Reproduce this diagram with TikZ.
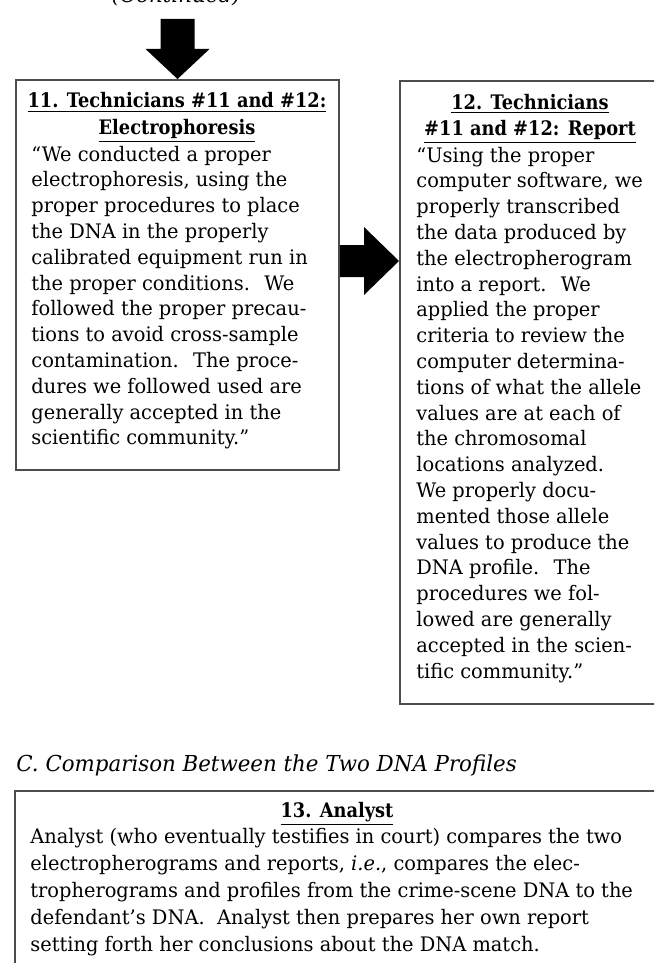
\documentclass[tikz,border=0pt]{standalone}
\usepackage{fontspec}
\setmainfont[FakeStretch=0.97]{DejaVu Serif}
\newfontfamily\headfont[FakeStretch=0.89]{DejaVu Serif}
\usetikzlibrary{calc}
\begin{document}
\begin{tikzpicture}[x=0.5pt,y=-0.5pt,
  panel/.style={draw=black!70, line width=1pt, rectangle, inner sep=0pt, anchor=north west},
  bodytext/.style={anchor=base west, inner sep=0pt, align=left, font=\fontsize{10}{12.9}\selectfont},
  headtext/.style={anchor=base, inner sep=0pt, align=center, font=\fontsize{10}{13.3}\selectfont\headfont\bfseries},
  blockarrow/.style={fill=black, draw=none}]
\useasboundingbox (0,0) rectangle (654,963);
\clip (0,0) rectangle (654,963);

% carried-over caption from the previous page
\node[anchor=base, inner sep=0pt, font=\fontsize{11}{14}\selectfont\itshape] (cont) at (176,3) {(Continued)};

% step boxes
\node[panel, minimum width=161.5pt, minimum height=195pt] (b11) at (15,79) {};
\node[panel, minimum width=131pt, minimum height=311.5pt] (b12) at (399,80) {};
\node[panel, minimum width=323.5pt, minimum height=120pt] (b13) at (14,790) {};

% block arrow into step 11
\fill[blockarrow] (b11.north) -- ++(-32,-30) -- ++(15,0) -- ++(0,-30) -- ++(34,0)
  -- ++(0,30) -- ++(15,0) -- cycle;

% block arrow from step 11 to step 12
\path (b11.east |- 0,261) coordinate (rs) (b12.west |- 0,261) coordinate (rt);
\fill[blockarrow] (rt) -- ++(-35,-34) -- ++(0,18) -- ($(rs)+(0,-16)$) -- ($(rs)+(0,16)$)
  -- ($(rt)+(-35,16)$) -- ++(0,18) -- cycle;

% step 11 (multi-line nodes are placed by the baseline of their last line)
\node[headtext] (h11) at (177,134.6) {\underline{11. Technicians \#11 and \#12:}\\\underline{Electrophoresis}};
\node[bodytext] (p11) at (31,444.8) {``We conducted a proper\\
electrophoresis, using the\\
proper procedures to place\\
the DNA in the properly\\
calibrated equipment run in\\
the proper conditions.~ We\\
followed the proper precau-\\
tions to avoid cross-sample\\
contamination.~ The proce-\\
dures we followed used are\\
generally accepted in the\\
scientific community.''};

% step 12
\node[headtext] (h12) at (530,135.6) {\underline{12. Technicians}\\\underline{\#11 and \#12: Report}};
\node[bodytext] (p12) at (416,678) {``Using the proper\\
computer software, we\\
properly transcribed\\
the data produced by\\
the electropherogram\\
into a report.~ We\\
applied the proper\\
criteria to review the\\
computer determina-\\
tions of what the allele\\
values are at each of\\
the chromosomal\\
locations analyzed.\\
We properly docu-\\
mented those allele\\
values to produce the\\
DNA profile.~ The\\
procedures we fol-\\
lowed are generally\\
accepted in the scien-\\
tific community.''};

% section C
\node[anchor=base west, inner sep=0pt, font=\fontsize{11}{14}\selectfont\itshape] (secC) at (16,771) {C. Comparison Between the Two DNA Profiles};
\node[headtext] (h13) at (337,817) {\underline{13. Analyst}};
\node[bodytext, font=\fontsize{10}{13.4}\selectfont] (p13) at (30,951) {Analyst (who eventually testifies in court) compares the two\\
electropherograms and reports, \textit{i.e.}, compares the elec-\\
tropherograms and profiles from the crime-scene DNA to the\\
defendant's DNA.~ Analyst then prepares her own report\\
setting forth her conclusions about the DNA match.};
\end{tikzpicture}
\end{document}
